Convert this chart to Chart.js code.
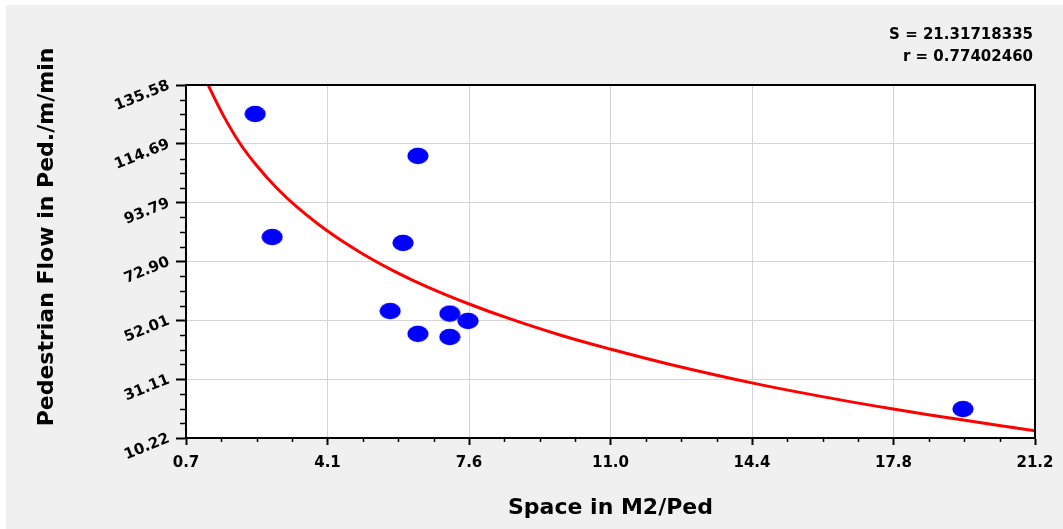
<!DOCTYPE html>
<html>
<head>
    <title>Pedestrian Flow vs Space</title>
    <script src="https://cdn.jsdelivr.net/npm/chart.js"></script>
    <style>
        body { margin: 0; background: #ffffff; }
        .panel { position: absolute; left: 6px; top: 5px; width: 1057px; height: 524px; background: #f0f0f0; }
    </style>
</head>
<body>
    <div class="panel"><canvas id="flowChart"></canvas></div>

    <script>
        // Observed data (space in m2/ped, flow in ped/m/min)
        const spaceValues = [2.37, 6.30, 2.78, 5.94, 5.63, 7.07, 7.51, 6.30, 7.07, 19.46];
        const flowValues  = [125.3, 110.4, 81.6, 79.5, 55.3, 54.4, 51.8, 47.2, 46.1, 20.5];

        // Fitted curve
        const curveX = [1.20, 1.60, 2.00, 2.41, 2.89, 3.37, 4.10, 4.90, 5.71, 6.51, 7.52, 8.53, 9.73, 10.94, 12.32, 14.36, 16.33, 17.78, 19.47, 21.20];
        const curveY = [136.6, 124.8, 114.9, 106.9, 99.0, 92.4, 83.9, 76.2, 69.6, 64.0, 57.9, 52.5, 46.8, 41.8, 36.6, 29.8, 24.2, 20.5, 16.6, 12.8];

        // Axis tick labels
        const xTickLabels = ['0.7', '4.1', '7.6', '11.0', '14.4', '17.8', '21.2'];
        const yTickLabels = ['10.22', '31.11', '52.01', '72.90', '93.79', '114.69', '135.58'];
        const xMin = 0.7, xMax = 21.2;
        const yMin = 10.22, yMax = 135.58;

        const statLines = ['S = 21.31718335', 'r = 0.77402460'];

        const FONT = "'DejaVu Sans', 'Liberation Sans', Arial, sans-serif";

        function evenTicks(min, max, n) {
            const out = [];
            for (let i = 0; i < n; i++) out.push({ value: min + (max - min) * i / (n - 1) });
            return out;
        }

        // blue ellipse marker (even size so it lands on whole pixels)
        const dot = document.createElement('canvas');
        dot.width = 22; dot.height = 18;
        const dctx = dot.getContext('2d');
        dctx.fillStyle = '#0000ff';
        dctx.beginPath();
        dctx.ellipse(11, 9, 10.6, 8.2, 0, 0, Math.PI * 2);
        dctx.fill();

        // white plot area
        const plotBg = {
            id: 'plotBg',
            beforeDraw(chart) {
                const a = chart.chartArea;
                chart.ctx.save();
                chart.ctx.fillStyle = '#ffffff';
                chart.ctx.fillRect(a.left, a.top, a.right - a.left, a.bottom - a.top);
                chart.ctx.restore();
            }
        };

        // frame, minor ticks, stats and y title
        const decorations = {
            id: 'decorations',
            afterDraw(chart) {
                const ctx = chart.ctx;
                const area = chart.chartArea;
                const xs = chart.scales.x, ys = chart.scales.y;
                ctx.save();
                ctx.strokeStyle = '#000000';
                ctx.lineWidth = 2;
                ctx.strokeRect(area.left, area.top, area.right - area.left, area.bottom - area.top);

                // minor ticks
                ctx.lineWidth = 1.5;
                ctx.beginPath();
                for (let i = 0; i < xs.ticks.length - 1; i++) {
                    const a = xs.ticks[i].value, b = xs.ticks[i + 1].value;
                    for (let k = 1; k < 4; k++) {
                        const px = Math.round(xs.getPixelForValue(a + (b - a) * k / 4)) + 0.5;
                        ctx.moveTo(px, area.bottom);
                        ctx.lineTo(px, area.bottom + 4);
                    }
                }
                for (let i = 0; i < ys.ticks.length - 1; i++) {
                    const a = ys.ticks[i].value, b = ys.ticks[i + 1].value;
                    for (let k = 1; k < 4; k++) {
                        const py = Math.round(ys.getPixelForValue(a + (b - a) * k / 4)) + 0.5;
                        ctx.moveTo(area.left, py);
                        ctx.lineTo(area.left - 6, py);
                    }
                }
                ctx.stroke();

                // regression stats
                ctx.fillStyle = '#000000';
                ctx.font = 'bold 15px ' + FONT;
                ctx.textAlign = 'right';
                ctx.textBaseline = 'middle';
                ctx.fillText(statLines[0], 1027, 30);
                ctx.fillText(statLines[1], 1027, 52);

                // y axis title
                ctx.translate(41, 232);
                ctx.rotate(-Math.PI / 2);
                ctx.textAlign = 'center';
                ctx.font = 'bold 22px ' + FONT;
                ctx.fillText('Pedestrian Flow in Ped./m/min', 0, 0);
                ctx.restore();
            }
        };

        const ctx = document.getElementById('flowChart').getContext('2d');
        const chart = new Chart(ctx, {
            type: 'scatter',
            data: {
                datasets: [
                    {
                        label: 'Observed',
                        data: spaceValues.map((x, i) => ({ x: x, y: flowValues[i] })),
                        pointStyle: dot,
                        pointRadius: 10,
                        order: 1
                    },
                    {
                        type: 'line',
                        label: 'Fit',
                        data: curveX.map((x, i) => ({ x: x, y: curveY[i] })),
                        borderColor: '#ff0000',
                        borderWidth: 3,
                        pointRadius: 0,
                        tension: 0.4,
                        fill: false,
                        order: 2
                    }
                ]
            },
            options: {
                responsive: true,
                maintainAspectRatio: false,
                animation: false,
                layout: { padding: { top: 80, right: 28, left: 0, bottom: 0 } },
                plugins: {
                    legend: { display: false },
                    tooltip: { enabled: false }
                },
                scales: {
                    x: {
                        type: 'linear',
                        min: xMin,
                        max: xMax,
                        afterBuildTicks: s => { s.ticks = evenTicks(xMin, xMax, xTickLabels.length); },
                        afterFit: s => { s.height = 91; },
                        ticks: {
                            autoSkip: false,
                            maxRotation: 0,
                            padding: 9,
                            color: '#000000',
                            font: { family: FONT, size: 15, weight: 'bold' },
                            callback: (v, i) => xTickLabels[i]
                        },
                        grid: { color: '#d4d4d4', lineWidth: 1, tickColor: '#000000', tickLength: 7, tickWidth: 2 },
                        border: { display: true, color: '#000000', width: 2 },
                        title: {
                            display: true,
                            text: 'Space in M2/Ped',
                            color: '#000000',
                            font: { family: FONT, size: 22, weight: 'bold' },
                            padding: { top: 0, bottom: 8 }
                        }
                    },
                    y: {
                        type: 'linear',
                        min: yMin,
                        max: yMax,
                        afterBuildTicks: s => { s.ticks = evenTicks(yMin, yMax, yTickLabels.length); },
                        afterFit: s => { s.width = 180; },
                        ticks: {
                            autoSkip: false,
                            minRotation: 22,
                            maxRotation: 22,
                            padding: 7,
                            color: '#000000',
                            font: { family: FONT, size: 15, weight: 'bold' },
                            callback: (v, i) => yTickLabels[i]
                        },
                        grid: { color: '#d4d4d4', lineWidth: 1, tickColor: '#000000', tickLength: 10, tickWidth: 2 },
                        border: { display: true, color: '#000000', width: 2 }
                    }
                }
            },
            plugins: [plotBg, decorations]
        });
    </script>
</body>
</html>
